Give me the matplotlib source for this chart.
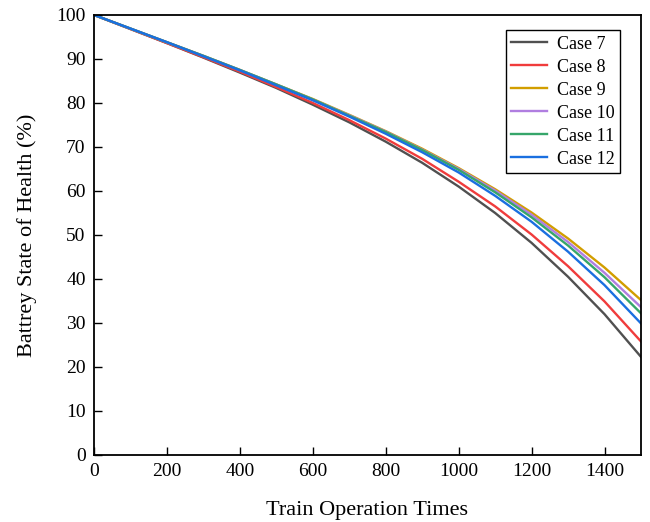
import numpy as np
import matplotlib.pyplot as plt

plt.rcParams['font.family'] = ['Liberation Serif', 'DejaVu Serif']

# train operation times
x = [0, 100, 200, 300, 400, 500, 600, 700, 800, 900, 1000, 1100, 1200, 1300, 1400, 1500]

# battery state of health (%) for each case
case7 = [100, 96.8, 93.6, 90.3, 86.9, 83.4, 79.6, 75.6, 71.2, 66.4, 61.0, 55.0, 48.2, 40.5, 32.0, 22.3]
case8 = [100, 96.8, 93.6, 90.4, 87.1, 83.6, 80.0, 76.1, 71.9, 67.3, 62.1, 56.5, 50.1, 42.9, 34.9, 25.8]
case9 = [100, 96.9, 93.8, 90.7, 87.5, 84.2, 80.9, 77.3, 73.6, 69.6, 65.2, 60.4, 55.1, 49.2, 42.6, 35.2]
case10 = [100, 96.9, 93.8, 90.7, 87.5, 84.2, 80.8, 77.2, 73.5, 69.4, 65.0, 60.1, 54.6, 48.4, 41.4, 33.6]
case11 = [100, 96.9, 93.8, 90.7, 87.5, 84.2, 80.8, 77.1, 73.4, 69.3, 64.8, 59.7, 54.0, 47.6, 40.4, 32.2]
case12 = [100, 96.9, 93.8, 90.6, 87.4, 84.0, 80.6, 76.9, 73.0, 68.8, 64.2, 58.9, 53.0, 46.2, 38.6, 29.9]

labels = ['Case 7', 'Case 8', 'Case 9', 'Case 10', 'Case 11', 'Case 12']
colors = ['#505050', '#f03c3c', '#d29e00', '#b07ee0', '#36a66a', '#1a6fe0']
series = [case7, case8, case9, case10, case11, case12]

fig = plt.figure(figsize=(6.5, 5.22), dpi=100)
ax = fig.add_axes([0.1446, 0.1284, 0.8415, 0.843])

for y, lab, c in zip(series, labels, colors):
    ax.plot(x, y, color=c, lw=1.7, label=lab)

ax.set_xlim(0, 1500)
ax.set_ylim(0, 100)
ax.set_xticks(range(0, 1500, 200))
ax.set_yticks(range(0, 101, 10))
ax.tick_params(direction='in', length=6, width=1, labelsize=14, pad=6,
               top=False, right=False)
for s in ax.spines.values():
    s.set_linewidth(1.3)

ax.set_xlabel('Train Operation Times', fontsize=16, labelpad=15)
ax.set_ylabel('Battrey State of Health (%)', fontsize=16, labelpad=14)

leg = ax.legend(loc='upper right', bbox_to_anchor=(0.962, 0.965), borderaxespad=0,
                fontsize=13, fancybox=False, framealpha=1, edgecolor='black',
                handlelength=2.0, labelspacing=0.33, borderpad=0.3, handletextpad=0.55)
leg.get_frame().set_linewidth(1.0)

fig.savefig('out.png', dpi=100)
